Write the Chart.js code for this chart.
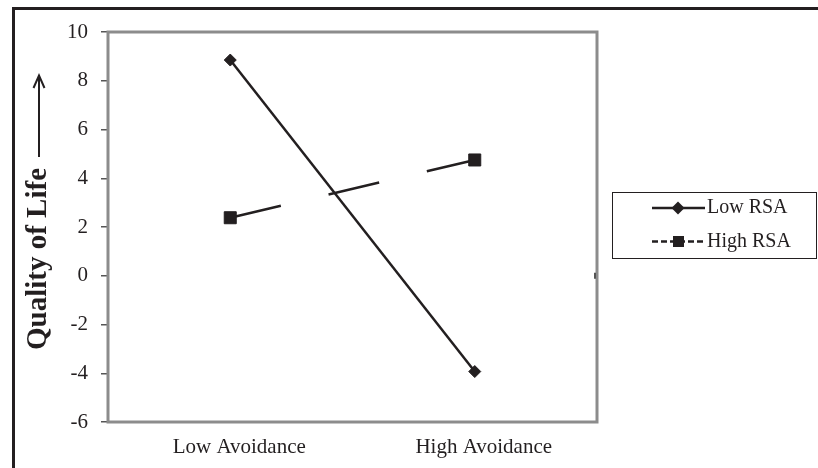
<!DOCTYPE html>
<html>
<head>
<meta charset="utf-8">
<script src="https://cdn.jsdelivr.net/npm/chart.js@4.4.1/dist/chart.umd.min.js"></script>
<style>
  html, body { margin: 0; padding: 0; background: #fff; }
  #wrap { width: 818px; height: 468px; }
</style>
</head>
<body>
<div id="wrap"><canvas id="c" width="818" height="468"></canvas></div>
<script>
// ---- data ----
const categories = ['Low Avoidance', 'High Avoidance'];
const lowRSA = [8.85, -3.93];
const highRSA = [2.38, 4.75];
const seriesLabels = ['Low RSA', 'High RSA'];
const yTicks = [-6, -4, -2, 0, 2, 4, 6, 8, 10];
const yTitle = 'Quality of Life';

const INK = '#231f20';
const FONT = '"Liberation Serif", "Times New Roman", serif';

const decor = {
  id: 'decor',
  afterDraw(chart) {
    const ctx = chart.ctx;
    const a = chart.chartArea;
    ctx.save();
    // plot frame
    ctx.strokeStyle = '#8c8c8c';
    ctx.lineWidth = 3;
    ctx.strokeRect(a.left, a.top, a.right - a.left, a.bottom - a.top);
    // small mark on right border at y=0
    const y0 = chart.scales.y.getPixelForValue(0);
    ctx.strokeStyle = '#555';
    ctx.lineWidth = 2;
    ctx.beginPath();
    ctx.moveTo(a.right - 2, y0 - 3);
    ctx.lineTo(a.right - 2, y0 + 3);
    ctx.stroke();
    // outer frame (left + top)
    ctx.strokeStyle = INK;
    ctx.lineWidth = 3;
    ctx.beginPath();
    ctx.moveTo(13.5, 468);
    ctx.lineTo(13.5, 8.5);
    ctx.lineTo(818, 8.5);
    ctx.stroke();
    // y title
    ctx.fillStyle = INK;
    ctx.font = 'bold 29px ' + FONT;
    ctx.textAlign = 'left';
    ctx.textBaseline = 'middle';
    ctx.translate(39, 350);
    ctx.rotate(-Math.PI / 2);
    ctx.fillText(yTitle, 0, 0);
    ctx.setTransform(1, 0, 0, 1, 0, 0);
    // arrow
    ctx.strokeStyle = INK;
    ctx.lineWidth = 2;
    ctx.beginPath();
    ctx.moveTo(39, 157);
    ctx.lineTo(39, 76);
    ctx.stroke();
    ctx.beginPath();
    ctx.moveTo(33.5, 88);
    ctx.lineTo(39, 75.5);
    ctx.lineTo(44.5, 88);
    ctx.stroke();
    // legend
    const lx = 612.5, ly = 192.5, lw = 204, lh = 66;
    ctx.strokeStyle = INK;
    ctx.lineWidth = 1;
    ctx.strokeRect(lx, ly, lw, lh);
    const rows = [208, 241.5];
    chart.data.datasets.forEach((ds, i) => {
      const cy = rows[i];
      ctx.strokeStyle = ds.borderColor;
      ctx.lineWidth = 2.5;
      ctx.setLineDash(i === 1 ? [6, 3] : []);
      ctx.beginPath();
      ctx.moveTo(652, cy);
      ctx.lineTo(705, cy);
      ctx.stroke();
      ctx.setLineDash([]);
      ctx.fillStyle = ds.pointBackgroundColor;
      if (ds.pointStyle === 'rectRot') {
        ctx.beginPath();
        ctx.moveTo(678, cy - 6.5);
        ctx.lineTo(684.5, cy);
        ctx.lineTo(678, cy + 6.5);
        ctx.lineTo(671.5, cy);
        ctx.closePath();
        ctx.fill();
      } else {
        ctx.fillRect(673, cy - 5.5, 11, 11);
      }
      ctx.fillStyle = INK;
      ctx.font = '20px ' + FONT;
      ctx.textAlign = 'left';
      ctx.textBaseline = 'middle';
      ctx.fillText(ds.label, 707, cy);
    });
    ctx.restore();
  }
};

new Chart(document.getElementById('c'), {
  type: 'line',
  data: {
    labels: categories,
    datasets: [
      {
        label: seriesLabels[0],
        data: lowRSA,
        borderColor: INK,
        backgroundColor: INK,
        pointBackgroundColor: INK,
        pointBorderColor: INK,
        borderWidth: 2.5,
        pointStyle: 'rectRot',
        pointRadius: 6,
        pointBorderWidth: 1,
        tension: 0
      },
      {
        label: seriesLabels[1],
        data: highRSA,
        borderColor: INK,
        backgroundColor: INK,
        pointBackgroundColor: INK,
        pointBorderColor: INK,
        borderWidth: 2.5,
        borderDash: [52, 49],
        pointStyle: 'rect',
        pointRadius: 8.5,
        pointBorderWidth: 1,
        tension: 0
      }
    ]
  },
  options: {
    responsive: false,
    animation: false,
    devicePixelRatio: 1,
    layout: { padding: { top: 32, right: 221, left: 0, bottom: 0 } },
    plugins: { legend: { display: false }, title: { display: false }, tooltip: { enabled: false } },
    scales: {
      x: {
        type: 'category',
        offset: true,
        grid: { display: false, drawTicks: false },
        border: { display: false },
        ticks: { color: INK, font: { family: FONT, size: 21 }, padding: 13, labelOffset: 9, maxRotation: 0 },
        afterFit(s) { s.height = 46; }
      },
      y: {
        min: -6,
        max: 10,
        afterBuildTicks(s) { s.ticks = yTicks.map(v => ({ value: v })); },
        grid: { drawOnChartArea: false, drawTicks: true, tickLength: 7, tickColor: '#555', lineWidth: 1.5 },
        border: { display: false },
        ticks: { color: INK, font: { family: FONT, size: 21 }, padding: 13 },
        afterFit(s) { s.width = 108; }
      }
    }
  },
  plugins: [decor]
});
</script>
</body>
</html>
